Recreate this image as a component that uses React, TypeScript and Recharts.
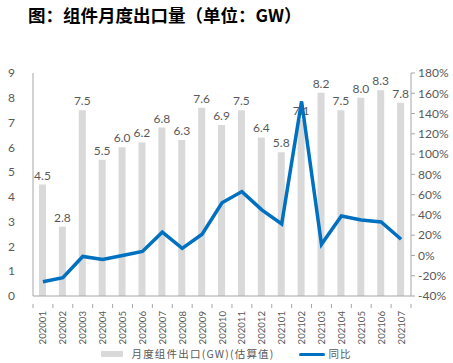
import { ComposedChart, Bar, Line, XAxis, YAxis, LabelList } from "recharts"

const months = [
	"202001", "202002", "202003", "202004", "202005", "202006", "202007",
	"202008", "202009", "202010", "202011", "202012", "202101", "202102",
	"202103", "202104", "202105", "202106", "202107",
]
const exportGW = [4.5, 2.8, 7.5, 5.5, 6.0, 6.2, 6.8, 6.3, 7.6, 6.9, 7.5, 6.4, 5.8, 7.1, 8.2, 7.5, 8.0, 8.3, 7.8]
const yoyPct = [-26, -22, -1, -4, 0, 4, 23, 7, 21, 52, 63, 45, 31, 152, 11, 39, 35, 33, 16]
const leftTicks = [0, 1, 2, 3, 4, 5, 6, 7, 8, 9]
const rightTicks = [-40, -20, 0, 20, 40, 60, 80, 100, 120, 140, 160, 180]

const data = months.map((m, i) => ({ month: m, gw: exportGW[i], yoy: yoyPct[i] }))

const GRAY = "#595959"
const AXIS = "#a6a6a6"
const FONT = "Lato, 'Noto Sans CJK SC', sans-serif"
const BAND = 378 / months.length

function MonthTick(props: any) {
	const { x, y, payload, index } = props
	return (
		<g>
			<line x1={x - BAND / 2} y1={y} x2={x - BAND / 2} y2={y + 4} stroke={AXIS} />
			{index === months.length - 1 && (
				<line x1={x + BAND / 2} y1={y} x2={x + BAND / 2} y2={y + 4} stroke={AXIS} />
			)}
			<text
				x={x}
				y={y + 7}
				transform={`rotate(-90, ${x}, ${y + 7})`}
				textAnchor="end"
				dominantBaseline="central"
				fontSize={9.6}
				fill={GRAY}
				fontFamily={FONT}
			>
				{payload.value}
			</text>
		</g>
	)
}

function ChartLegend() {
	return (
		<div style={{ position: "absolute", top: 347, left: 0, width: 453, height: 14, lineHeight: "14px", display: "flex", justifyContent: "center", alignItems: "center", fontFamily: "'Noto Sans CJK SC'", fontSize: 10.5, color: GRAY }}>
			<span style={{ display: "inline-block", width: 22, height: 6, background: "#d9d9d9", marginRight: 8 }} />
			<span style={{ letterSpacing: 1.2 }}>月度组件出口(GW)(估算值)</span>
			<span style={{ display: "inline-block", width: 26, height: 3, background: "#0070c0", marginLeft: 24, marginRight: 4, borderRadius: 2 }} />
			<span style={{ letterSpacing: 1 }}>同比</span>
		</div>
	)
}

export default function App() {
	return (
		<div style={{ position: "absolute", left: 0, top: 0, width: 453, height: 363, background: "#fff" }}>
			<div style={{ position: "absolute", left: 28, top: 2, fontFamily: "'Noto Sans CJK SC'", fontWeight: 700, fontSize: 17.5, color: "#000" }}>
				图：组件月度出口量（单位：GW）
			</div>
			<ComposedChart
				width={453}
				height={363}
				data={data}
				margin={{ top: 73, right: 0, bottom: 22, left: 0 }}
				barCategoryGap={0}
			>
				<XAxis
					dataKey="month"
					interval={0}
					height={45}
					tickLine={false}
					axisLine={{ stroke: AXIS }}
					tick={<MonthTick />}
				/>
				<YAxis
					yAxisId="left"
					domain={[0, 9]}
					ticks={leftTicks}
					interval={0}
					width={33}
					tickLine={false}
					axisLine={{ stroke: AXIS }}
					tickMargin={12}
					tick={{ fontSize: 12, fill: GRAY, fontFamily: FONT }}
				/>
				<YAxis
					yAxisId="right"
					orientation="right"
					domain={[-40, 180]}
					ticks={rightTicks}
					interval={0}
					width={42}
					tickSize={4}
					tickMargin={3}
					tickLine={{ stroke: AXIS }}
					axisLine={{ stroke: AXIS }}
					tickFormatter={(v: number) => `${v}%`}
					tick={{ fontSize: 12, fill: GRAY, fontFamily: FONT }}
				/>
				<Bar yAxisId="left" dataKey="gw" fill="#d9d9d9" barSize={7} isAnimationActive={false}>
					<LabelList
						dataKey="gw"
						position="top"
						offset={5}
						formatter={(v: any) => Number(v).toFixed(1)}
						style={{ fontSize: 12, fill: GRAY, fontFamily: FONT }}
					/>
				</Bar>
				<Line
					yAxisId="right"
					dataKey="yoy"
					stroke="#0070c0"
					strokeWidth={3.5}
					dot={false}
					isAnimationActive={false}
				/>
			</ComposedChart>
			<ChartLegend />
		</div>
	)
}
